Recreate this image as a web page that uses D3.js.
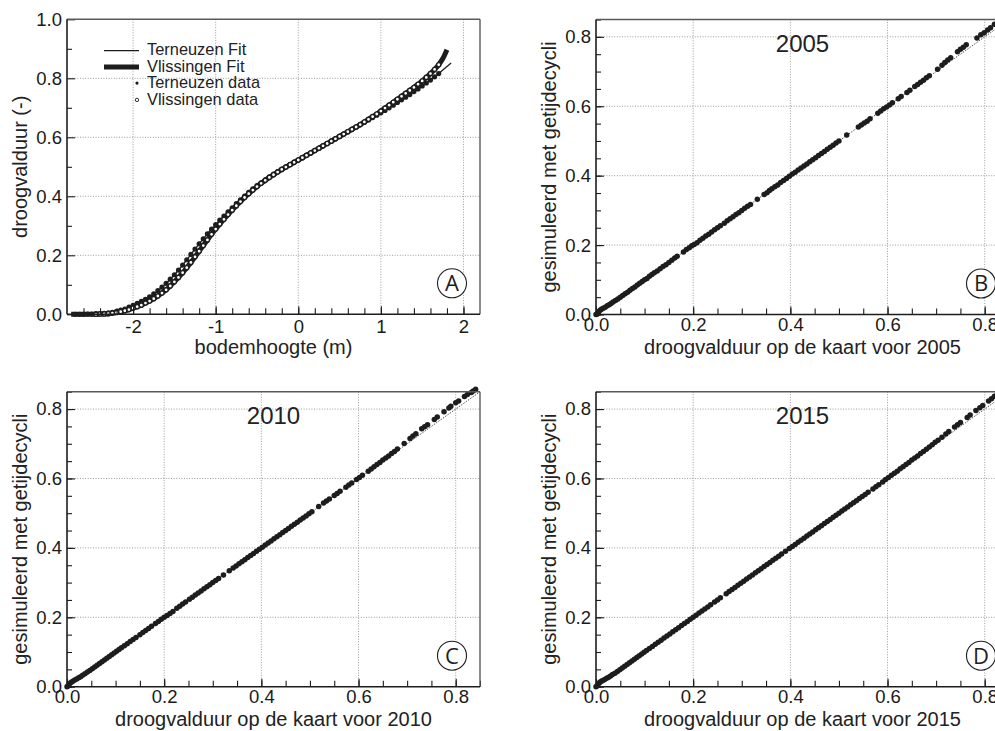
<!DOCTYPE html>
<html>
<head>
<meta charset="utf-8">
<script src="https://cdn.jsdelivr.net/npm/d3@7"></script>
<style>
  html, body { margin: 0; padding: 0; background: #fff; }
  svg { display: block; }
</style>
</head>
<body>
<svg id="fig" width="995" height="731"></svg>
<script>
// ---- Paneel A: droogvalduur als functie van de bodemhoogte ----
const hoogte = [-2.70,-2.65,-2.60,-2.55,-2.50,-2.45,-2.40,-2.35,-2.30,-2.25,-2.20,-2.15,-2.10,-2.05,-2.00,-1.95,-1.90,-1.85,-1.80,-1.75,-1.70,-1.65,-1.60,-1.55,-1.50,-1.45,-1.40,-1.35,-1.30,-1.25,-1.20,-1.15,-1.10,-1.05,-1.00,-0.95,-0.90,-0.85,-0.80,-0.75,-0.70,-0.65,-0.60,-0.55,-0.50,-0.45,-0.40,-0.35,-0.30,-0.25,-0.20,-0.15,-0.10,-0.05,0.00,0.05,0.10,0.15,0.20,0.25,0.30,0.35,0.40,0.45,0.50,0.55,0.60,0.65,0.70,0.75,0.80,0.85,0.90,0.95,1.00,1.05,1.10,1.15,1.20,1.25,1.30,1.35,1.40,1.45,1.50,1.55,1.60,1.65,1.70];

const terneuzenData = [0.000,0.000,0.000,0.001,0.001,0.002,0.002,0.003,0.005,0.007,0.010,0.014,0.018,0.024,0.030,0.037,0.044,0.051,0.059,0.069,0.080,0.092,0.105,0.119,0.134,0.150,0.167,0.185,0.203,0.221,0.239,0.256,0.273,0.289,0.304,0.319,0.333,0.347,0.361,0.375,0.388,0.401,0.413,0.425,0.436,0.446,0.456,0.466,0.475,0.484,0.492,0.500,0.508,0.516,
  0.523,0.531,0.539,0.547,0.555,0.563,0.571,0.579,0.587,0.595,0.603,0.611,0.619,0.627,0.635,0.643,0.651,0.659,0.667,0.675,0.683,0.691,0.700,0.709,0.718,0.727,0.736,0.745,0.755,0.764,0.774,0.784,0.794,0.805,0.816];

const vlissingenData = [0.000,0.000,0.000,0.000,0.000,0.000,0.001,0.001,0.002,0.004,0.006,0.009,0.012,0.016,0.021,0.026,0.031,0.038,0.045,0.053,0.062,0.072,0.083,0.096,0.110,0.125,0.141,0.158,0.176,0.195,0.214,0.233,0.252,0.271,0.289,0.306,0.322,0.338,0.353,0.368,0.382,0.396,0.409,0.421,0.433,0.444,0.454,0.464,0.473,0.482,0.491,0.499,0.507,0.515,
  0.523,0.531,0.539,0.547,0.555,0.563,0.571,0.579,0.587,0.595,0.603,0.611,0.619,0.627,0.635,0.643,0.652,0.661,0.670,0.679,0.689,0.699,0.709,0.719,0.729,0.739,0.749,0.759,0.769,0.780,0.791,0.803,0.816,0.830,0.846];

// metingen Vlissingen beginnen pas bij deze hoogte
const vlissingenVanaf = -2.45;

// fit-lijnen: begin- en eindstukken buiten het meetbereik
const fitBeginHoogte = [-2.75];
const fitBeginWaarde = [0.000];
const terneuzenFitEindHoogte = [1.75, 1.80, 1.85];
const terneuzenFitEindWaarde = [0.828, 0.840, 0.852];
const vlissingenFitEindHoogte = [1.75, 1.80];
const vlissingenFitEindWaarde = [0.867, 0.897];

const hoogteTicks = [-2, -1, 0, 1, 2];
const droogTicks = [0.0, 0.2, 0.4, 0.6, 0.8, 1.0];
const fractieTicks = [0.0, 0.2, 0.4, 0.6, 0.8];

// ---- Panelen B-D: kaart tegen simulatie met getijdecycli, [kaart, gesimuleerd] ----
const punten2005 = [[0.000,0.000],[0.002,0.001],[0.004,0.005],[0.006,0.009],[0.009,0.013],[0.012,0.016],[0.015,0.018],[0.019,0.021],[0.023,0.025],[0.027,0.028],[0.031,0.032],[0.035,0.036],[0.040,0.040],[0.045,0.045],[0.050,0.050],[0.055,0.055],[0.060,0.060],[0.065,0.064],[0.070,0.070],[0.075,0.075],[0.080,0.079],[0.085,0.085],[0.090,0.090],[0.095,0.095],[0.100,0.100],[0.105,0.104],[0.110,0.110],[0.115,0.115],[0.120,0.120],[0.126,0.125],[0.132,0.132],[0.138,0.138],[0.144,0.143],[0.150,0.150],[0.156,0.156],[0.162,0.163],[0.167,0.168],[0.180,0.180],[0.186,0.187],[0.192,0.192],[0.197,0.198],[0.202,0.202],[0.208,0.207],[0.214,0.214],[0.220,0.220],[0.226,0.226],[0.232,0.231],[0.238,0.238],[0.244,0.244],[0.250,0.250],[0.256,0.256],[0.264,0.263],[0.270,0.270],[0.276,0.276],[0.282,0.282],[0.288,0.288],[0.294,0.293],[0.300,0.300],[0.306,0.306],[0.312,0.312],[0.318,0.317],[0.332,0.332],[0.346,0.346],[0.352,0.351],[0.357,0.357],[0.362,0.362],[0.368,0.368],[0.374,0.373],[0.380,0.380],[0.386,0.386],[0.392,0.392],[0.398,0.398],[0.404,0.405],[0.410,0.410],[0.416,0.416],[0.422,0.422],[0.428,0.428],[0.434,0.434],[0.440,0.440],[0.446,0.446],[0.452,0.452],[0.458,0.458],[0.464,0.464],[0.470,0.470],[0.476,0.476],[0.482,0.482],[0.488,0.488],[0.494,0.494],[0.500,0.500],[0.516,0.517],[0.540,0.540],[0.546,0.546],[0.552,0.552],[0.558,0.557],[0.564,0.564],[0.580,0.580],[0.586,0.586],[0.592,0.593],[0.598,0.598],[0.604,0.604],[0.610,0.610],[0.622,0.622],[0.628,0.628],[0.640,0.640],[0.646,0.646],[0.656,0.657],[0.662,0.663],[0.668,0.669],[0.674,0.675],[0.680,0.682],[0.686,0.688],[0.703,0.707],[0.712,0.718],[0.718,0.726],[0.724,0.733],[0.730,0.740],[0.744,0.757],[0.750,0.764],[0.756,0.770],[0.762,0.777],[0.784,0.797],[0.792,0.806],[0.799,0.812],[0.806,0.820],[0.812,0.826],[0.820,0.836]];

const punten2010 = [[0.000,0.000],[0.002,0.002],[0.004,0.006],[0.006,0.010],[0.009,0.013],[0.012,0.016],[0.016,0.019],[0.020,0.022],[0.024,0.026],[0.028,0.029],[0.032,0.033],[0.037,0.037],[0.042,0.042],[0.047,0.047],[0.052,0.052],[0.057,0.057],[0.062,0.062],[0.067,0.067],[0.072,0.072],[0.077,0.077],[0.082,0.082],[0.087,0.087],[0.092,0.092],[0.097,0.097],[0.102,0.102],[0.107,0.107],[0.112,0.112],[0.118,0.118],[0.124,0.124],[0.130,0.130],[0.136,0.136],[0.142,0.142],[0.150,0.150],[0.156,0.156],[0.162,0.162],[0.168,0.168],[0.174,0.174],[0.182,0.182],[0.188,0.188],[0.194,0.194],[0.200,0.200],[0.206,0.205],[0.212,0.211],[0.218,0.217],[0.226,0.226],[0.232,0.232],[0.238,0.238],[0.244,0.244],[0.252,0.252],[0.258,0.258],[0.264,0.264],[0.270,0.270],[0.276,0.276],[0.282,0.282],[0.288,0.288],[0.294,0.294],[0.300,0.300],[0.306,0.306],[0.312,0.312],[0.322,0.322],[0.334,0.334],[0.342,0.342],[0.348,0.348],[0.354,0.354],[0.360,0.360],[0.366,0.366],[0.372,0.372],[0.378,0.378],[0.384,0.384],[0.390,0.390],[0.396,0.396],[0.402,0.402],[0.408,0.408],[0.414,0.414],[0.420,0.420],[0.426,0.426],[0.432,0.432],[0.438,0.438],[0.444,0.444],[0.450,0.450],[0.456,0.456],[0.462,0.462],[0.468,0.468],[0.474,0.474],[0.480,0.480],[0.486,0.486],[0.492,0.492],[0.498,0.498],[0.504,0.504],[0.518,0.519],[0.528,0.529],[0.534,0.535],[0.540,0.541],[0.550,0.551],[0.556,0.557],[0.562,0.563],[0.574,0.575],[0.580,0.581],[0.586,0.587],[0.596,0.597],[0.602,0.603],[0.608,0.609],[0.620,0.621],[0.626,0.627],[0.632,0.634],[0.638,0.640],[0.644,0.646],[0.650,0.653],[0.656,0.659],[0.662,0.665],[0.668,0.672],[0.674,0.678],[0.680,0.685],[0.694,0.701],[0.706,0.715],[0.712,0.722],[0.718,0.729],[0.730,0.743],[0.736,0.749],[0.742,0.755],[0.756,0.770],[0.762,0.777],[0.776,0.792],[0.786,0.803],[0.790,0.808],[0.800,0.818],[0.806,0.823],[0.818,0.836],[0.824,0.842],[0.832,0.848],[0.836,0.852],[0.841,0.857]];

const punten2015 = [[0.000,0.000],[0.002,0.002],[0.004,0.006],[0.006,0.010],[0.008,0.013],[0.011,0.016],[0.014,0.018],[0.018,0.021],[0.022,0.024],[0.026,0.027],[0.030,0.031],[0.034,0.035],[0.039,0.039],[0.044,0.044],[0.049,0.049],[0.054,0.054],[0.059,0.059],[0.064,0.064],[0.069,0.069],[0.074,0.074],[0.079,0.079],[0.084,0.084],[0.089,0.089],[0.094,0.094],[0.099,0.099],[0.104,0.104],[0.110,0.110],[0.116,0.116],[0.122,0.122],[0.128,0.128],[0.134,0.134],[0.140,0.140],[0.146,0.146],[0.152,0.152],[0.158,0.158],[0.164,0.164],[0.170,0.170],[0.176,0.176],[0.182,0.182],[0.188,0.188],[0.194,0.194],[0.200,0.200],[0.206,0.206],[0.212,0.212],[0.218,0.218],[0.224,0.224],[0.230,0.230],[0.236,0.236],[0.244,0.244],[0.250,0.250],[0.256,0.256],[0.268,0.268],[0.274,0.274],[0.280,0.280],[0.286,0.286],[0.292,0.292],[0.298,0.298],[0.304,0.304],[0.310,0.310],[0.316,0.316],[0.322,0.322],[0.328,0.328],[0.334,0.334],[0.340,0.340],[0.346,0.346],[0.352,0.352],[0.358,0.358],[0.364,0.364],[0.370,0.370],[0.376,0.376],[0.382,0.382],[0.390,0.390],[0.398,0.398],[0.404,0.404],[0.410,0.410],[0.416,0.416],[0.422,0.422],[0.428,0.428],[0.434,0.434],[0.440,0.440],[0.446,0.446],[0.452,0.452],[0.458,0.458],[0.464,0.464],[0.470,0.470],[0.476,0.476],[0.482,0.482],[0.488,0.488],[0.494,0.494],[0.500,0.500],[0.506,0.506],[0.512,0.512],[0.518,0.518],[0.524,0.524],[0.530,0.530],[0.536,0.536],[0.542,0.542],[0.548,0.548],[0.554,0.554],[0.560,0.560],[0.570,0.570],[0.576,0.576],[0.582,0.582],[0.590,0.590],[0.596,0.597],[0.602,0.603],[0.608,0.609],[0.614,0.615],[0.620,0.621],[0.626,0.628],[0.632,0.634],[0.638,0.640],[0.644,0.646],[0.650,0.653],[0.656,0.659],[0.662,0.665],[0.668,0.672],[0.674,0.678],[0.680,0.684],[0.686,0.691],[0.692,0.697],[0.698,0.704],[0.704,0.710],[0.712,0.719],[0.720,0.728],[0.726,0.735],[0.738,0.748],[0.744,0.755],[0.750,0.761],[0.764,0.776],[0.770,0.783],[0.782,0.796],[0.790,0.804],[0.796,0.810],[0.808,0.823],[0.814,0.830],[0.820,0.837],[0.826,0.843]];

const jaren = ["2005", "2010", "2015"];
const paneelLetters = ["A", "B", "C", "D"];

// ---- tekenen ----
const FONT = '"Liberation Sans", Arial, Helvetica, sans-serif';
const INK = "#1d1d1d";
const PW = 413, PH = 295;

const svg = d3.select("#fig").attr("font-family", FONT);

function maakPaneel(left, top, xDomain, yDomain) {
  const g = svg.append("g").attr("transform", `translate(${left},${top})`);
  const x = d3.scaleLinear().domain(xDomain).range([0, PW]);
  const y = d3.scaleLinear().domain(yDomain).range([PH, 0]);
  return { g, x, y };
}

function raster(p, xVals, yVals) {
  const grid = p.g.append("g")
    .attr("stroke", "#9c9c9c").attr("stroke-width", 1).attr("stroke-dasharray", "1,1.6");
  grid.selectAll("line.gx").data(xVals).join("line").attr("class", "gx")
    .attr("x1", d => p.x(d)).attr("x2", d => p.x(d)).attr("y1", 0).attr("y2", PH);
  grid.selectAll("line.gy").data(yVals).join("line").attr("class", "gy")
    .attr("y1", d => p.y(d)).attr("y2", d => p.y(d)).attr("x1", 0).attr("x2", PW);
}

function assen(p, o) {
  const styl = s => {
    s.select(".domain").remove();
    s.attr("font-family", FONT).attr("font-size", 18.5);
    s.selectAll("line").attr("stroke", INK).attr("stroke-width", 1.1);
    s.selectAll("text").attr("fill", "#1a1a1a");
  };
  // kleine streepjes
  p.g.append("g").attr("transform", `translate(0,${PH})`)
    .call(d3.axisBottom(p.x).tickValues(o.xMinor).tickSize(-6).tickFormat("")).call(styl);
  p.g.append("g")
    .call(d3.axisLeft(p.y).tickValues(o.yMinor).tickSize(-5).tickFormat("")).call(styl);
  // hoofdstreepjes met labels
  p.g.append("g").attr("transform", `translate(0,${PH})`)
    .call(d3.axisBottom(p.x).tickValues(o.xMajor).tickSize(-8).tickPadding(o.xPad).tickFormat(o.xFmt)).call(styl);
  p.g.append("g")
    .call(d3.axisLeft(p.y).tickValues(o.yMajor).tickSize(-8).tickPadding(5).tickFormat(o.yFmt)).call(styl);
}

function kader(p) {
  const k = p.g.append("g").attr("fill", "none");
  k.append("line").attr("x1", 0).attr("x2", PW).attr("y1", 0).attr("y2", 0)
    .attr("stroke", "#5a5a5a").attr("stroke-width", 1.4);
  k.append("line").attr("x1", PW).attr("x2", PW).attr("y1", 0).attr("y2", PH)
    .attr("stroke", "#5a5a5a").attr("stroke-width", 1.4);
  k.append("line").attr("x1", 0).attr("x2", PW).attr("y1", PH).attr("y2", PH)
    .attr("stroke", INK).attr("stroke-width", 1.6);
  k.append("line").attr("x1", 0).attr("x2", 0).attr("y1", 0).attr("y2", PH)
    .attr("stroke", INK).attr("stroke-width", 1.6);
}

function titels(p, xTitel, yTitel) {
  p.g.append("text").attr("x", PW / 2).attr("y", PH + 39.5)
    .attr("text-anchor", "middle").attr("font-size", 20).attr("fill", "#222").text(xTitel);
  p.g.append("text")
    .attr("transform", `translate(-40,${PH / 2}) rotate(-90)`)
    .attr("text-anchor", "middle").attr("font-size", 20).attr("fill", "#222").text(yTitel);
}

function letter(p, l) {
  const c = p.g.append("g").attr("transform", `translate(${PW - 28},${PH - 31})`);
  c.append("circle").attr("r", 14.5).attr("fill", "#fff").attr("stroke", INK).attr("stroke-width", 1.1);
  c.append("text").attr("text-anchor", "middle").attr("dy", "0.36em")
    .attr("font-family", '"Open Sans", "Noto Sans", sans-serif').attr("font-size", 22)
    .attr("fill", INK).text(l);
}

const fmt1 = d3.format(".1f");
const minorFrac = d3.range(0, 0.851, 0.05);

// ---------- Paneel A ----------
{
  const p = maakPaneel(67, 19.3, [-2.8, 2.2], [0, 1]);
  raster(p, hoogteTicks, droogTicks.filter(d => d > 0 && d < 1));

  const fitT = fitBeginHoogte.map((h, i) => [h, fitBeginWaarde[i]])
    .concat(hoogte.map((h, i) => [h, terneuzenData[i]]))
    .concat(terneuzenFitEindHoogte.map((h, i) => [h, terneuzenFitEindWaarde[i]]));
  const fitV = fitBeginHoogte.map((h, i) => [h, fitBeginWaarde[i]])
    .concat(hoogte.map((h, i) => [h, vlissingenData[i]]))
    .concat(vlissingenFitEindHoogte.map((h, i) => [h, vlissingenFitEindWaarde[i]]));
  const lijn = d3.line().x(d => p.x(d[0])).y(d => p.y(d[1])).curve(d3.curveMonotoneX);

  p.g.append("path").datum(fitV).attr("d", lijn).attr("fill", "none")
    .attr("stroke", INK).attr("stroke-width", 5);
  p.g.append("path").datum(fitT).attr("d", lijn).attr("fill", "none")
    .attr("stroke", INK).attr("stroke-width", 1.3);

  p.g.append("g").selectAll("circle")
    .data(hoogte.map((h, i) => [h, terneuzenData[i]]))
    .join("circle").attr("cx", d => p.x(d[0])).attr("cy", d => p.y(d[1]))
    .attr("r", 2.6).attr("fill", INK);
  p.g.append("g").selectAll("circle")
    .data(hoogte.map((h, i) => [h, vlissingenData[i]]).filter(d => d[0] >= vlissingenVanaf))
    .join("circle").attr("cx", d => p.x(d[0])).attr("cy", d => p.y(d[1]))
    .attr("r", 2.1).attr("fill", "#fff").attr("stroke", INK).attr("stroke-width", 1.4);

  assen(p, {
    xMajor: hoogteTicks, xMinor: d3.range(-2.6, 2.01, 0.2), xPad: 6, xFmt: d => String(d),
    yMajor: droogTicks, yMinor: d3.range(0.1, 1.0, 0.2), yFmt: fmt1
  });
  kader(p);
  titels(p, "bodemhoogte (m)", "droogvalduur (-)");
  letter(p, paneelLetters[0]);

  // legenda
  const lg = p.g.append("g").attr("font-size", 16.4).attr("fill", "#222");
  const items = [
    { t: "Terneuzen Fit", y: 36 },
    { t: "Vlissingen Fit", y: 52.6 },
    { t: "Terneuzen data", y: 69.2 },
    { t: "Vlissingen data", y: 85.8 }
  ];
  lg.selectAll("text").data(items).join("text").attr("x", 80).attr("y", d => d.y).text(d => d.t);
  lg.append("line").attr("x1", 37).attr("x2", 72).attr("y1", 31.4).attr("y2", 31.4)
    .attr("stroke", INK).attr("stroke-width", 1.3);
  lg.append("line").attr("x1", 37).attr("x2", 72).attr("y1", 47.6).attr("y2", 47.6)
    .attr("stroke", INK).attr("stroke-width", 5);
  lg.append("circle").attr("cx", 70).attr("cy", 63.8).attr("r", 1.6).attr("fill", INK);
  lg.append("circle").attr("cx", 70).attr("cy", 80.6).attr("r", 1.7)
    .attr("fill", "#fff").attr("stroke", INK).attr("stroke-width", 0.9);
}

// ---------- Panelen B, C, D ----------
const spreiding = [
  { left: 596, top: 19.5, punten: punten2005, jaar: jaren[0], letter: paneelLetters[1] },
  { left: 67, top: 391.7, punten: punten2010, jaar: jaren[1], letter: paneelLetters[2] },
  { left: 596, top: 391.7, punten: punten2015, jaar: jaren[2], letter: paneelLetters[3] }
];

spreiding.forEach(s => {
  const p = maakPaneel(s.left, s.top, [0, 0.85], [0, 0.85]);
  raster(p, fractieTicks.filter(d => d > 0), fractieTicks.filter(d => d > 0));

  // 1:1-lijn
  p.g.append("line")
    .attr("x1", p.x(0)).attr("y1", p.y(0)).attr("x2", p.x(0.85)).attr("y2", p.y(0.85))
    .attr("stroke", "#333").attr("stroke-width", 0.9).attr("stroke-dasharray", "1.4,1.4");

  p.g.append("g").selectAll("circle").data(s.punten).join("circle")
    .attr("cx", d => p.x(d[0])).attr("cy", d => p.y(d[1]))
    .attr("r", 2.75).attr("fill", INK);

  assen(p, {
    xMajor: fractieTicks, xMinor: minorFrac, xPad: 3.5, xFmt: fmt1,
    yMajor: fractieTicks, yMinor: minorFrac, yFmt: fmt1
  });
  kader(p);
  titels(p, "droogvalduur op de kaart voor " + s.jaar, "gesimuleerd met getijdecycli");

  p.g.append("text").attr("x", PW / 2).attr("y", 32.5).attr("text-anchor", "middle")
    .attr("font-size", 24).attr("fill", "#222").text(s.jaar);
  letter(p, s.letter);
});
</script>
</body>
</html>
